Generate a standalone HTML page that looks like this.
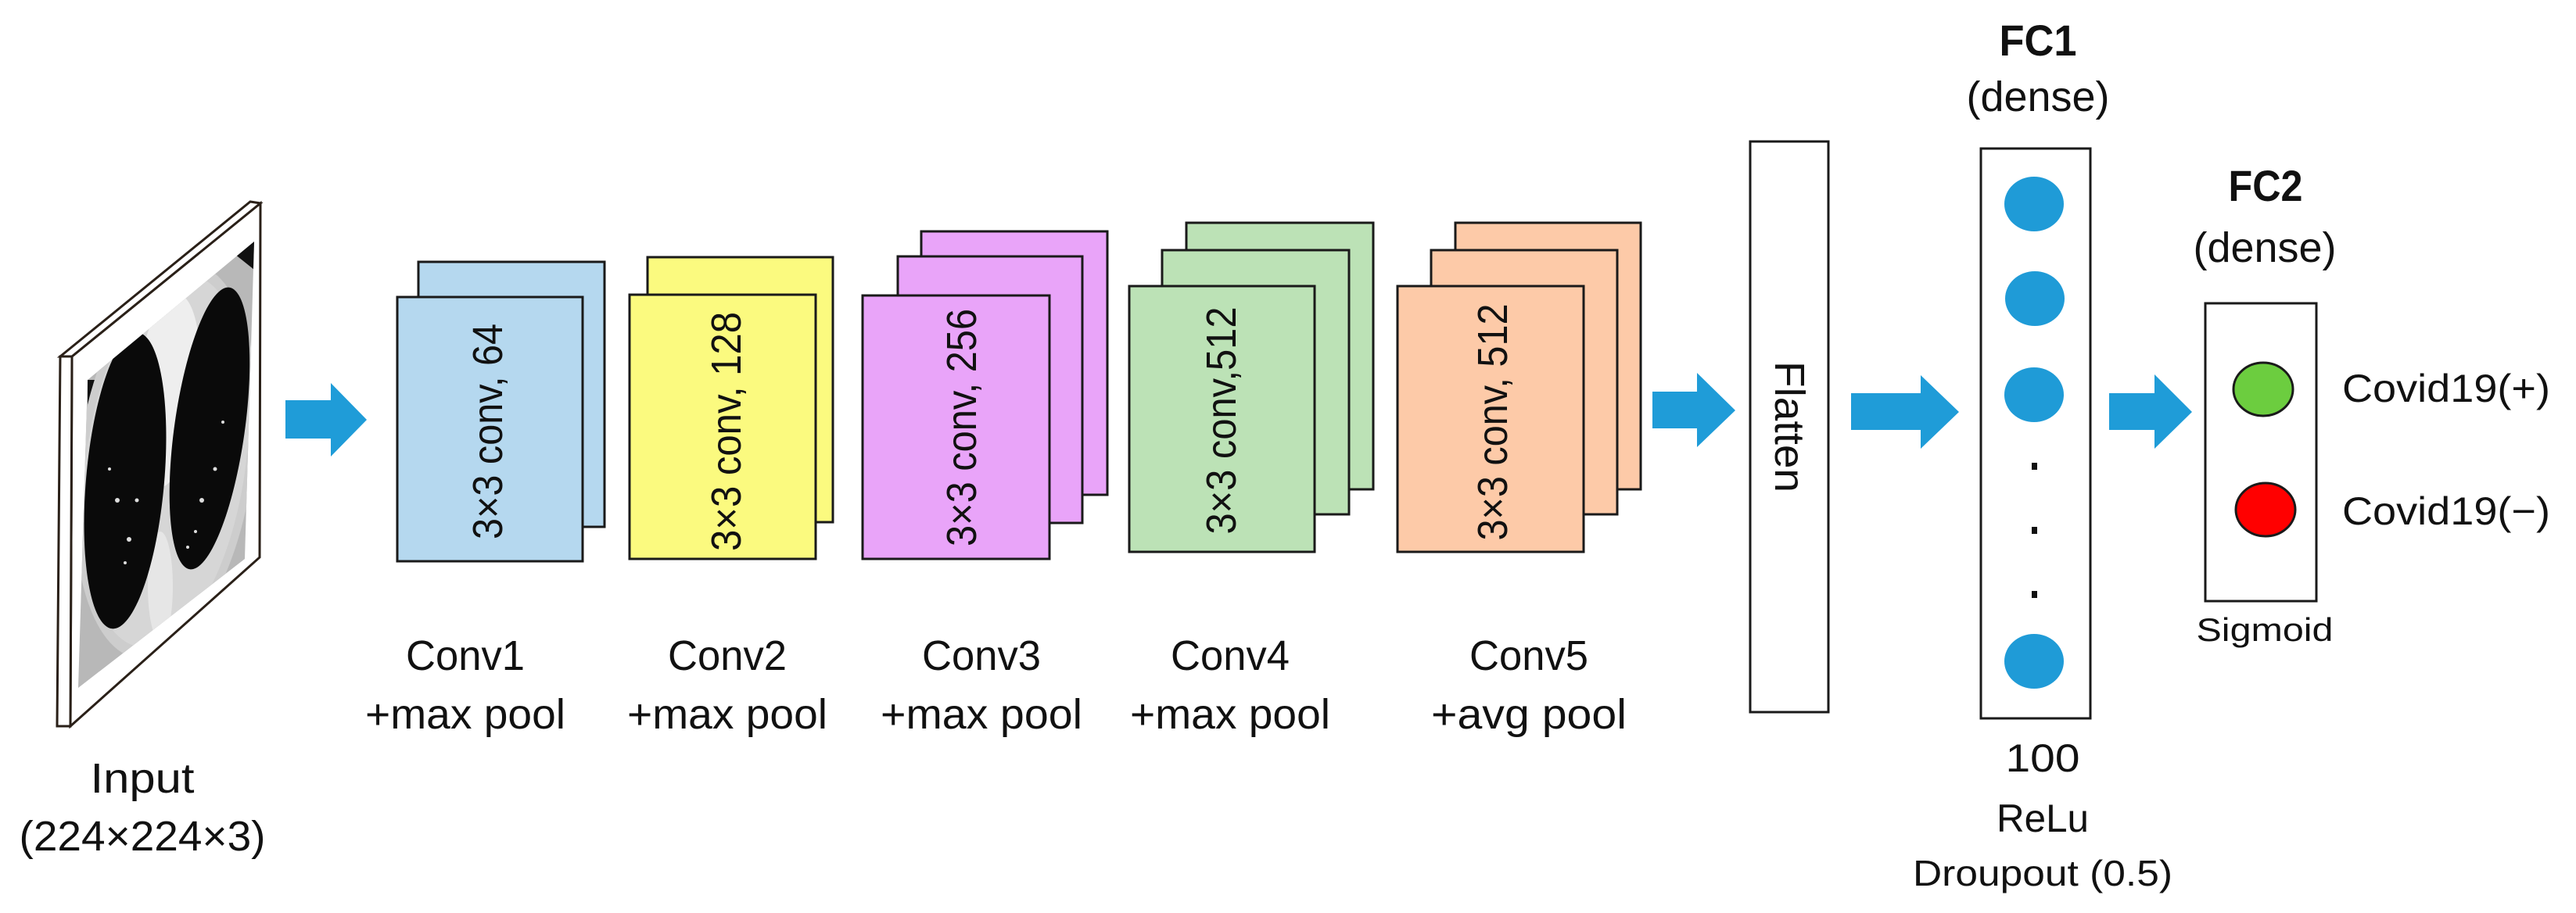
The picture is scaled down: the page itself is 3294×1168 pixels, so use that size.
<!DOCTYPE html>
<html><head><meta charset="utf-8"><style>
html,body{margin:0;padding:0;background:#fff}
svg{display:block}
text{font-family:"Liberation Sans",sans-serif;fill:#111}
</style></head><body>
<svg width="3294" height="1168" viewBox="0 0 3294 1168" xmlns="http://www.w3.org/2000/svg">
<defs>
<clipPath id="ct"><polygon points="112,486 325,309 313,715 100,880"/></clipPath>
</defs>
<polygon points="92,456 333,260 332,713 90,929" fill="#fff" stroke="#2a2018" stroke-width="3"/>
<polygon points="73,929 77,456 92,456 90,929" fill="#fff" stroke="#2a2018" stroke-width="3"/>
<polygon points="77,456 320,258 333,260 92,456" fill="#fff" stroke="#2a2018" stroke-width="3"/>
<g clip-path="url(#ct)">
<rect x="90" y="300" width="240" height="590" fill="#b8b8b8"/>
<polygon points="112,486 125,486 112,520" fill="#111"/>
<polygon points="325,309 325,345 300,325" fill="#111"/>
<ellipse cx="212" cy="590" rx="112" ry="255" fill="#cdcdcd" transform="rotate(8 212 590)"/>
<ellipse cx="212" cy="590" rx="102" ry="240" fill="#d6d6d6" transform="rotate(8 212 590)"/>
<ellipse cx="214" cy="500" rx="40" ry="125" fill="#eeeeee" transform="rotate(6 214 500)"/>
<ellipse cx="205" cy="750" rx="16" ry="70" fill="#e6e6e6"/>
<ellipse cx="160" cy="615" rx="50" ry="190" fill="#0a0a0a" transform="rotate(5 160 615)"/>
<ellipse cx="268" cy="548" rx="45" ry="182" fill="#0a0a0a" transform="rotate(8 268 548)"/>
<g fill="#ddd"><circle cx="150" cy="640" r="3"/><circle cx="165" cy="690" r="3"/><circle cx="140" cy="600" r="2"/><circle cx="175" cy="640" r="2.5"/><circle cx="258" cy="640" r="3"/><circle cx="275" cy="600" r="2.5"/><circle cx="250" cy="680" r="2"/><circle cx="285" cy="540" r="2"/><circle cx="160" cy="720" r="2"/><circle cx="240" cy="700" r="2"/></g>
</g>
<g fill="#1f9cd8">
<polygon points="365,512 423,512 423,490 469,537 423,584 423,561 365,561"/>
<polygon points="2113,501 2170,501 2170,477 2219,525 2170,572 2170,548 2113,548"/>
<polygon points="2367,503 2456,503 2456,480 2505,527 2456,574 2456,550 2367,550"/>
<polygon points="2697,503 2755,503 2755,479 2803,527 2755,574 2755,550 2697,550"/>
</g>
<g stroke="#1a1a1a" stroke-width="3">
<rect x="535" y="335" width="238" height="339" fill="#b5d8ef"/>
<rect x="508" y="380" width="237" height="338" fill="#b5d8ef"/>
<rect x="828" y="329" width="237" height="339" fill="#fbfa7f"/>
<rect x="805" y="377" width="238" height="338" fill="#fbfa7f"/>
<rect x="1178" y="296" width="238" height="337" fill="#e9a4f9"/>
<rect x="1148" y="328" width="236" height="341" fill="#e9a4f9"/>
<rect x="1103" y="378" width="239" height="337" fill="#e9a4f9"/>
<rect x="1517" y="285" width="239" height="341" fill="#bce2b6"/>
<rect x="1486" y="320" width="239" height="338" fill="#bce2b6"/>
<rect x="1444" y="366" width="237" height="340" fill="#bce2b6"/>
<rect x="1861" y="285" width="237" height="341" fill="#fdcaa8"/>
<rect x="1830" y="320" width="238" height="338" fill="#fdcaa8"/>
<rect x="1787" y="366" width="238" height="340" fill="#fdcaa8"/>
</g>
<g font-size="54">
<text transform="translate(642,552) rotate(-90)" text-anchor="middle" textLength="276" lengthAdjust="spacingAndGlyphs">3×3 conv, 64</text>
<text transform="translate(947,552) rotate(-90)" text-anchor="middle" textLength="306" lengthAdjust="spacingAndGlyphs">3×3 conv, 128</text>
<text transform="translate(1248,547) rotate(-90)" text-anchor="middle" textLength="304" lengthAdjust="spacingAndGlyphs">3×3 conv, 256</text>
<text transform="translate(1580,538) rotate(-90)" text-anchor="middle" textLength="291" lengthAdjust="spacingAndGlyphs">3×3 conv,512</text>
<text transform="translate(1927,540) rotate(-90)" text-anchor="middle" textLength="303" lengthAdjust="spacingAndGlyphs">3×3 conv, 512</text>
</g>
<g font-size="54" text-anchor="middle">
<text x="595" y="857" textLength="152" lengthAdjust="spacingAndGlyphs">Conv1</text>
<text x="595" y="932" textLength="256" lengthAdjust="spacingAndGlyphs">+max pool</text>
<text x="930" y="857" textLength="152" lengthAdjust="spacingAndGlyphs">Conv2</text>
<text x="930" y="932" textLength="256" lengthAdjust="spacingAndGlyphs">+max pool</text>
<text x="1255" y="857" textLength="152" lengthAdjust="spacingAndGlyphs">Conv3</text>
<text x="1255" y="932" textLength="258" lengthAdjust="spacingAndGlyphs">+max pool</text>
<text x="1573" y="857" textLength="152" lengthAdjust="spacingAndGlyphs">Conv4</text>
<text x="1573" y="932" textLength="256" lengthAdjust="spacingAndGlyphs">+max pool</text>
<text x="1955" y="857" textLength="152" lengthAdjust="spacingAndGlyphs">Conv5</text>
<text x="1955" y="932" textLength="250" lengthAdjust="spacingAndGlyphs">+avg pool</text>
<text x="182" y="1014" textLength="133" lengthAdjust="spacingAndGlyphs">Input</text>
<text x="182" y="1088" textLength="315" lengthAdjust="spacingAndGlyphs">(224×224×3)</text>
</g>
<rect x="2238" y="181" width="100" height="730" fill="#fff" stroke="#1a1a1a" stroke-width="3"/>
<text transform="translate(2270,546) rotate(90)" font-size="54" text-anchor="middle" textLength="168" lengthAdjust="spacingAndGlyphs">Flatten</text>
<text x="2606" y="71" font-size="56" font-weight="bold" text-anchor="middle" textLength="99" lengthAdjust="spacingAndGlyphs">FC1</text>
<text x="2606" y="142" font-size="54" text-anchor="middle" textLength="183" lengthAdjust="spacingAndGlyphs">(dense)</text>
<rect x="2533" y="190" width="140" height="729" fill="#fff" stroke="#1a1a1a" stroke-width="3"/>
<g fill="#1f9bd7">
<ellipse cx="2601" cy="261" rx="38" ry="35"/>
<ellipse cx="2602" cy="382" rx="38" ry="35"/>
<ellipse cx="2601" cy="505" rx="38" ry="35"/>
<ellipse cx="2601" cy="846" rx="38" ry="35"/>
</g>
<g fill="#111"><rect x="2598" y="592" width="7" height="9"/><rect x="2598" y="674" width="7" height="9"/><rect x="2598" y="756" width="7" height="9"/></g>
<g font-size="50" text-anchor="middle">
<text x="2612" y="987" textLength="95" lengthAdjust="spacingAndGlyphs">100</text>
<text x="2612" y="1064" textLength="118" lengthAdjust="spacingAndGlyphs">ReLu</text>
<text x="2612" y="1133" font-size="46" textLength="332" lengthAdjust="spacingAndGlyphs">Droupout (0.5)</text>
</g>
<text x="2897" y="257" font-size="56" font-weight="bold" text-anchor="middle" textLength="95" lengthAdjust="spacingAndGlyphs">FC2</text>
<text x="2896" y="335" font-size="54" text-anchor="middle" textLength="183" lengthAdjust="spacingAndGlyphs">(dense)</text>
<rect x="2820" y="388" width="142" height="381" fill="#fff" stroke="#1a1a1a" stroke-width="3"/>
<ellipse cx="2894" cy="498" rx="38" ry="34" fill="#6ccd3f" stroke="#1a1a1a" stroke-width="3"/>
<ellipse cx="2897" cy="652" rx="38" ry="34" fill="#ff0000" stroke="#1a1a1a" stroke-width="3"/>
<text x="2896" y="820" font-size="42" text-anchor="middle" textLength="175" lengthAdjust="spacingAndGlyphs">Sigmoid</text>
<text x="2995" y="514" font-size="50" textLength="266" lengthAdjust="spacingAndGlyphs">Covid19(+)</text>
<text x="2995" y="671" font-size="50" textLength="266" lengthAdjust="spacingAndGlyphs">Covid19(−)</text>
</svg>
</body></html>
